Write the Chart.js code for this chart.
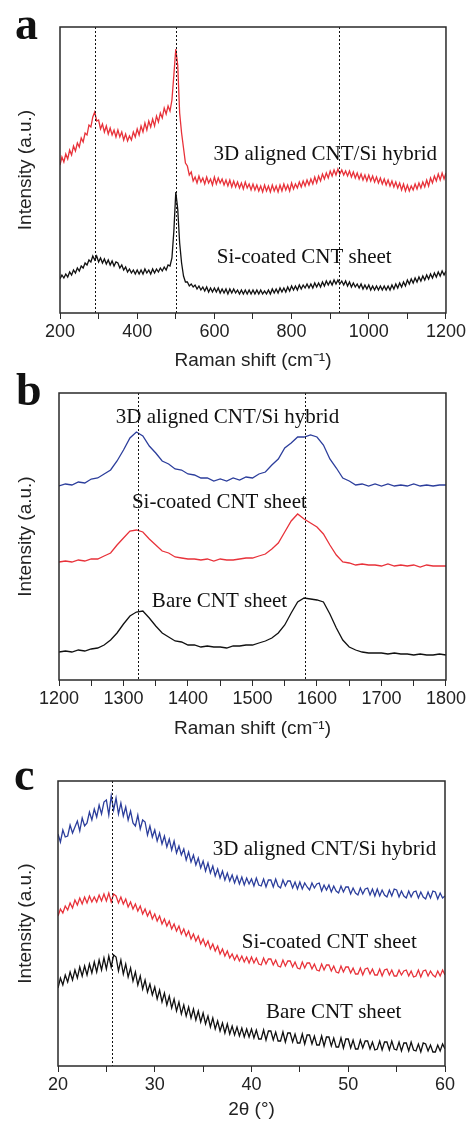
<!DOCTYPE html>
<html>
<head>
<meta charset="utf-8">
<script src="https://cdn.jsdelivr.net/npm/chart.js@4.4.0/dist/chart.umd.min.js"></script>
<style>
  body { margin: 0; background: #fff; width: 468px; height: 1121px; position: relative; overflow: hidden; }
  canvas { position: absolute; left: 0; }
</style>
</head>
<body>
<canvas id="chart-a" width="468" height="372" style="top:0"></canvas>
<canvas id="chart-b" width="468" height="368" style="top:372px"></canvas>
<canvas id="chart-c" width="468" height="381" style="top:740px"></canvas>
<script>
// Panel a: Raman 200-1200 cm-1, sampled every 5
const ramanAHybrid = [148,156,151,159,154,163,158,167,162,170,
  166,175,171,180,178,188,186,196,201,192,
  193,184,189,181,187,179,185,178,183,176,
  183,176,181,173,179,172,177,173,181,176,
  184,178,187,181,190,183,192,186,194,187,
  197,191,200,195,205,199,207,202,213,238,
  264,248,200,180,165,150,147,138,141,132,
  136,130,137,131,135,129,136,130,134,128,
  136,129,135,130,134,128,133,127,133,126,
  132,126,131,125,130,124,131,125,129,123,
  129,123,128,122,127,121,128,122,127,121,
  128,122,127,121,128,122,129,123,128,122,
  130,124,129,125,131,126,132,127,133,128,
  134,129,136,130,137,132,139,134,140,135,
  142,137,143,138,144,139,143,138,142,137,
  142,136,141,135,140,134,139,133,138,132,
  138,132,137,131,136,130,135,129,134,128,
  133,127,132,126,131,125,130,123,129,122,
  128,122,127,123,129,124,130,125,131,126,
  133,127,135,130,137,132,139,133,140,134,
  140];
const ramanACoated = [34,38,35,39,36,41,38,43,40,45,
  42,47,45,50,48,53,51,57,53,57,
  51,55,50,54,49,53,48,52,47,51,
  50,45,48,43,46,41,44,40,43,39,
  43,39,43,39,44,40,43,39,44,40,
  44,41,45,42,46,43,48,47,55,82,
  121,104,70,50,37,31,31,27,29,26,
  28,24,27,23,26,22,26,21,25,21,
  25,21,25,20,24,20,24,19,24,20,
  24,20,23,19,23,19,23,19,23,19,
  23,19,23,19,23,19,22,19,23,19,
  24,20,24,20,25,21,25,21,26,22,
  27,23,27,23,28,24,28,25,29,25,
  29,25,30,26,30,26,31,27,32,28,
  32,28,33,29,33,29,32,28,32,27,
  31,26,30,26,29,25,29,24,28,24,
  28,23,27,23,27,23,27,23,27,23,
  27,23,28,24,29,25,30,26,31,27,
  33,29,34,30,35,31,36,32,37,33,
  38,34,39,35,40,36,41,37,42,38,
  42];
const ramanAGuides = [290, 500, 922];

// Panel b: Raman 1200-1800 cm-1, sampled every 10
const ramanBHybrid = [194,196,195,198,197,201,202,206,210,219,
  230,242,248,244,234,227,219,216,211,210,
  206,205,202,202,199,201,199,202,200,203,
  202,206,208,215,221,232,237,243,243,245,
  243,235,221,212,202,199,195,196,194,196,
  194,196,194,195,194,196,194,195,194,195,
  195];
const ramanBCoated = [118,119,118,120,119,121,121,124,127,135,
  142,149,150,148,141,135,129,127,123,122,
  121,121,120,121,119,121,120,120,121,122,
  122,124,126,131,137,148,159,166,161,157,
  153,146,135,125,118,117,115,116,115,115,
  114,116,114,115,114,115,113,115,114,114,
  114];
const ramanBBare = [28,29,28,30,29,31,32,35,40,47,
  56,64,68,69,62,54,47,43,39,38,
  35,35,33,34,33,33,32,34,34,35,
  35,37,39,42,47,55,67,78,82,81,
  80,78,66,52,40,33,30,28,27,27,
  27,26,27,26,26,25,26,25,25,26,
  25];
const ramanBGuides = [1322, 1581];

// Panel c: XRD 20-60 deg, sampled every 0.25
const xrdHybrid = [232,224,236,229, 230,241,233,239, 245,235,248,240, 243,254,246,257,
  249,261,252,264, 266,251,270,256, 268,252,263,250, 259,246,255,243,
  240,251,237,246, 244,231,240,229, 236,225,233,222, 230,219,227,216,
  225,213,220,211, 217,206,214,204, 211,201,208,198, 205,195,203,193,
  200,190,197,188, 195,186,193,185, 191,183,190,182, 189,181,188,182,
  187,180,188,181, 180,187,179,186, 186,179,187,180, 178,186,180,185,
  185,178,184,177, 184,177,183,179, 176,183,178,182, 183,175,181,176,
  181,174,180,175, 173,180,174,179, 179,172,178,173, 171,178,172,177,
  178,171,177,170, 177,170,176,171, 169,176,170,177, 176,169,175,170,
  168,175,169,174, 175,168,174,169, 167,174,168,175, 174,167,173,168,
  170];
const xrdCoated = [150,157,153,160, 156,163,158,166, 161,168,162,169, 163,170,164,169,
  164,171,165,172, 165,173,164,172, 170,163,169,162, 167,159,164,157,
  162,155,160,152, 157,150,155,147, 152,145,150,142, 147,140,145,137,
  142,135,140,132, 137,130,135,127, 132,125,130,122, 127,120,125,117,
  122,115,120,112, 117,110,115,108, 112,106,111,105, 110,104,109,103,
  109,103,108,102, 101,108,102,107, 107,101,106,100, 99,106,100,105,
  105,99,104,98, 97,104,98,103, 103,97,102,96, 95,102,96,101,
  101,95,100,94, 93,100,94,99, 99,93,98,92, 92,98,91,97,
  98,92,97,91, 91,97,90,96, 97,91,96,90, 90,96,91,95,
  96,90,95,89, 90,96,89,95, 96,90,95,91, 89,95,90,96,
  91];
const xrdBare = [78,88,81,91, 84,94,86,96, 88,99,90,100, 91,102,93,104,
  94,106,96,108, 97,110,99,111, 109,95,106,92, 102,89,98,85,
  94,81,90,77, 86,74,82,71, 79,67,76,64, 73,61,70,58,
  67,55,64,52, 61,50,59,48, 57,46,55,44, 53,42,50,39,
  48,37,45,35, 43,33,42,32, 40,31,39,30, 38,29,37,29,
  37,28,36,27, 27,36,26,35, 35,26,34,25, 25,34,24,33,
  33,24,32,23, 23,32,22,31, 31,22,30,21, 21,30,20,29,
  29,20,28,19, 19,28,18,27, 27,18,26,17, 17,26,18,25,
  25,17,24,16, 17,25,16,24, 24,16,25,17, 16,24,15,23,
  23,15,24,16, 15,22,14,23, 22,15,21,14, 14,21,15,22,
  17];
const xrdGuides = [25.6];

const RED = '#e8323a';
const BLUE = '#2c3e9c';
const BLACK = '#111111';
const SANS = '"Liberation Sans", Arial, sans-serif';
const SERIF = '"Liberation Serif", "Times New Roman", serif';

function steps(start, count, step) {
  const out = [];
  for (let i = 0; i < count; i++) out.push(Math.round((start + i * step) * 100) / 100);
  return out;
}

// dotted guides, frame, curve names and panel letter
const panelDecor = {
  id: 'panelDecor',
  afterDatasetsDraw(chart, args, opts) {
    const { ctx, chartArea: a, scales: { x, y } } = chart;
    ctx.save();
    ctx.strokeStyle = '#111';
    ctx.lineWidth = 1;
    ctx.setLineDash([2, 2]);
    opts.guides.forEach(g => {
      const px = Math.round(x.getPixelForValue(g)) + 0.5;
      ctx.beginPath();
      ctx.moveTo(px, a.top);
      ctx.lineTo(px, a.bottom);
      ctx.stroke();
    });
    ctx.setLineDash([]);
    ctx.strokeStyle = '#2a2a2a';
    ctx.lineWidth = 1.5;
    ctx.strokeRect(a.left, a.top, a.right - a.left, a.bottom - a.top);
    ctx.fillStyle = '#111';
    ctx.textBaseline = 'alphabetic';
    ctx.font = '21px ' + SERIF;
    opts.notes.forEach(n => ctx.fillText(n.text, x.getPixelForValue(n.x), y.getPixelForValue(n.y)));
    ctx.font = 'bold 46px ' + SERIF;
    ctx.fillText(opts.letter, opts.letterAt[0], opts.letterAt[1]);
    ctx.restore();
  }
};

function makePanel(id, p) {
  return new Chart(document.getElementById(id), {
    type: 'line',
    data: {
      datasets: p.series.map(s => ({
        data: p.xs.map((v, i) => ({ x: v, y: s.values[i] })),
        borderColor: s.color,
        borderWidth: 1.3,
        pointRadius: 0,
        tension: 0
      }))
    },
    options: {
      responsive: false,
      animation: false,
      events: [],
      layout: { padding: p.padding },
      plugins: {
        legend: { display: false },
        tooltip: { enabled: false },
        panelDecor: { guides: p.guides, notes: p.notes, letter: p.letter, letterAt: p.letterAt }
      },
      scales: {
        x: {
          type: 'linear',
          min: p.xMin,
          max: p.xMax,
          afterFit: s => { s.height = p.xHeight; },
          border: { display: false },
          grid: { drawOnChartArea: false, tickLength: 6, color: '#2a2a2a', lineWidth: 1 },
          ticks: {
            stepSize: p.minorStep,
            autoSkip: false,
            maxRotation: 0,
            padding: 2,
            color: '#222',
            font: { family: SANS, size: 18 },
            callback: v => (Math.round(v / p.minorStep) % 2 === 0 ? v : '')
          },
          title: { display: true, text: p.xTitle, color: '#222', font: { family: SANS, size: 19 }, padding: { top: 0, bottom: 0 } }
        },
        y: {
          min: 0,
          max: p.yMax,
          afterFit: s => { s.width = p.yWidth; },
          border: { display: false },
          grid: { display: false },
          ticks: { display: false },
          title: { display: true, text: 'Intensity (a.u.)', color: '#222', font: { family: SANS, size: 19 }, padding: { top: 14, bottom: 0 } }
        }
      }
    },
    plugins: [panelDecor]
  });
}

makePanel('chart-a', {
  xs: steps(200, 201, 5),
  series: [
    { values: ramanAHybrid, color: RED },
    { values: ramanACoated, color: BLACK }
  ],
  xMin: 200, xMax: 1200, minorStep: 100, yMax: 286,
  padding: { top: 27, right: 21, left: 0, bottom: 0 },
  xHeight: 59, yWidth: 60,
  xTitle: 'Raman shift (cm\u207B\u00B9)',
  guides: ramanAGuides,
  notes: [
    { text: '3D aligned CNT/Si hybrid', x: 598, y: 153 },
    { text: 'Si-coated CNT sheet', x: 606, y: 50 }
  ],
  letter: 'a', letterAt: [15, 39]
});

makePanel('chart-b', {
  xs: steps(1200, 61, 10),
  series: [
    { values: ramanBHybrid, color: BLUE },
    { values: ramanBCoated, color: RED },
    { values: ramanBBare, color: BLACK }
  ],
  xMin: 1200, xMax: 1800, minorStep: 50, yMax: 287,
  padding: { top: 21, right: 21, left: 0, bottom: 0 },
  xHeight: 60, yWidth: 59,
  xTitle: 'Raman shift (cm\u207B\u00B9)',
  guides: ramanBGuides,
  notes: [
    { text: '3D aligned CNT/Si hybrid', x: 1288, y: 257 },
    { text: 'Si-coated CNT sheet', x: 1313, y: 172 },
    { text: 'Bare CNT sheet', x: 1344, y: 73 }
  ],
  letter: 'b', letterAt: [16, 33]
});

makePanel('chart-c', {
  xs: steps(20, 161, 0.25),
  series: [
    { values: xrdHybrid, color: BLUE },
    { values: xrdCoated, color: RED },
    { values: xrdBare, color: BLACK }
  ],
  xMin: 20, xMax: 60, minorStep: 5, yMax: 285,
  padding: { top: 41, right: 23, left: 0, bottom: 0 },
  xHeight: 55, yWidth: 58,
  xTitle: '2\u03B8 (\u00B0)',
  guides: xrdGuides,
  notes: [
    { text: '3D aligned CNT/Si hybrid', x: 36.0, y: 211 },
    { text: 'Si-coated CNT sheet', x: 39.0, y: 118 },
    { text: 'Bare CNT sheet', x: 41.5, y: 48 }
  ],
  letter: 'c', letterAt: [14, 50]
});
</script>
</body>
</html>
